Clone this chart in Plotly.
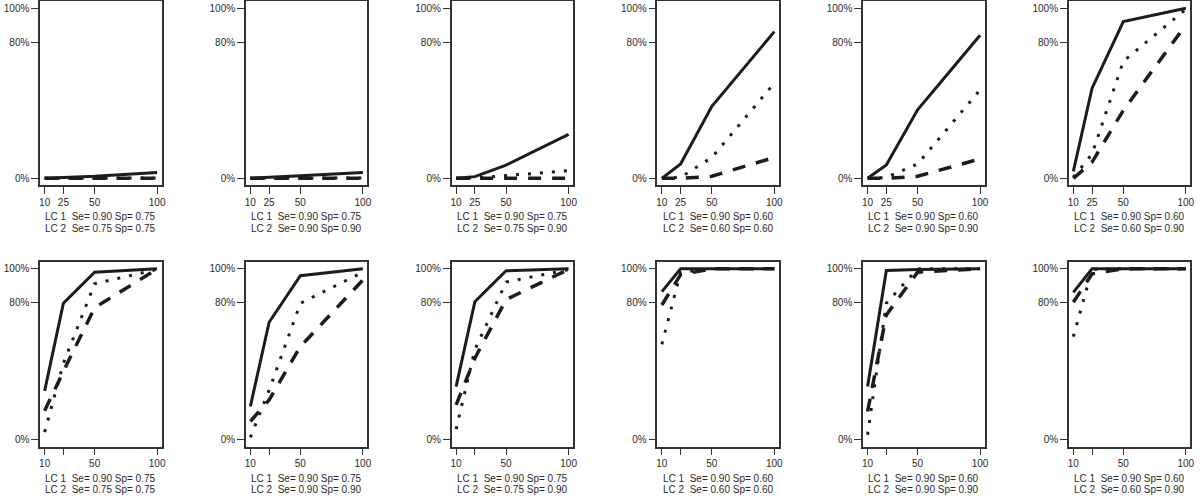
import plotly.graph_objects as go

# ---------------- data ----------------
sample_sizes = [10, 25, 50, 100]

# percentage values for each of the 12 panels (row-major), at sample_sizes
solid_series = [
    [0.1, 0.5, 1.2, 3.5],
    [0.1, 0.5, 1.5, 3.5],
    [0.0, 1.0, 7.8, 25.8],
    [0.0, 8.4, 42.3, 86.3],
    [0.0, 7.8, 40.3, 84.1],
    [4.1, 53.0, 92.2, 100.0],
    [28.6, 79.8, 97.9, 100.0],
    [19.5, 68.7, 95.9, 100.0],
    [31.1, 80.7, 98.8, 100.0],
    [86.6, 100.0, 100.0, 100.0],
    [31.1, 99.0, 99.6, 100.0],
    [86.2, 100.0, 100.0, 100.0],
]
dotted_series = [
    [0.0, 0.0, 0.1, 0.2],
    [0.0, 0.0, 0.1, 0.2],
    [0.0, 0.2, 1.6, 4.5],
    [0.0, 0.6, 12.3, 56.0],
    [0.0, 0.5, 8.4, 52.0],
    [0.6, 14.3, 68.9, 99.4],
    [4.5, 44.7, 91.2, 99.6],
    [1.4, 29.0, 79.8, 98.0],
    [6.2, 52.7, 92.2, 99.5],
    [55.8, 97.8, 100.0, 100.0],
    [2.9, 79.8, 100.0, 100.0],
    [60.3, 99.6, 100.0, 100.0],
]
dashed_series = [
    [0.0, 0.0, 0.0, 0.0],
    [0.0, 0.0, 0.0, 0.0],
    [0.0, 0.0, 0.0, 0.0],
    [0.0, 0.0, 1.2, 12.3],
    [0.0, 0.0, 1.2, 11.4],
    [0.0, 9.5, 40.0, 90.2],
    [16.9, 40.0, 77.2, 99.8],
    [10.7, 23.3, 54.5, 93.4],
    [20.4, 47.7, 82.0, 99.6],
    [78.8, 96.5, 100.0, 100.0],
    [16.5, 73.0, 98.0, 100.0],
    [80.4, 97.0, 100.0, 100.0],
]

lc1_labels = ["Se= 0.90 Sp= 0.75", "Se= 0.90 Sp= 0.75", "Se= 0.90 Sp= 0.75",
              "Se= 0.90 Sp= 0.60", "Se= 0.90 Sp= 0.60", "Se= 0.90 Sp= 0.60"] * 2
lc2_labels = ["Se= 0.75 Sp= 0.75", "Se= 0.90 Sp= 0.90", "Se= 0.75 Sp= 0.90",
              "Se= 0.60 Sp= 0.60", "Se= 0.90 Sp= 0.90", "Se= 0.60 Sp= 0.90"] * 2

y_tick_vals = [0, 80, 100]
y_tick_text = ["0%", "80%", "100%"]
x_tick_text_top = ["10", "25", "50", "100"]
x_tick_text_bottom = ["10", "", "50", "100"]

# ---------------- layout geometry (pixels) ----------------
W, H = 1200, 496
panel_left0 = 39.3
panel_step = 206.6
panel_w = 122.0
rows_px = [(0.5, 184.5), (261.4, 446.5)]          # (top, bottom) of each row's box
label_y_px = [(216, 228), (478, 489)]

FONT = "Liberation Sans, Arial, Helvetica, sans-serif"
TXT = "#2a2a2a"
LINE = "#1c1c1c"

fig = go.Figure()
layout = dict(
    width=W, height=H,
    margin=dict(l=0, r=0, t=0, b=0),
    paper_bgcolor="white", plot_bgcolor="white",
    showlegend=False,
    font=dict(family=FONT, size=10, color=TXT),
)
annotations = []

for k in range(12):
    r, c = divmod(k, 6)
    idx = k + 1
    xa = "x" if idx == 1 else f"x{idx}"
    ya = "y" if idx == 1 else f"y{idx}"
    left = panel_left0 + c * panel_step
    right = left + panel_w
    top, bottom = rows_px[r]

    layout[f"xaxis{idx if idx > 1 else ''}"] = dict(
        domain=[left / W, right / W], anchor=ya,
        range=[6.4, 103.6], tickmode="array", tickvals=sample_sizes,
        ticktext=x_tick_text_top if r == 0 else x_tick_text_bottom,
        showgrid=False, zeroline=False,
        showline=True, mirror=True, linecolor="#333333", linewidth=1.5,
        ticks="outside", ticklen=7, tickwidth=1, tickcolor="#333333",
        tickfont=dict(family=FONT, size=10, color=TXT), fixedrange=True,
    )
    layout[f"yaxis{idx if idx > 1 else ''}"] = dict(
        domain=[1 - bottom / H, 1 - top / H], anchor=xa,
        range=[-4, 104], tickmode="array", tickvals=y_tick_vals, ticktext=y_tick_text,
        showgrid=False, zeroline=False,
        showline=True, mirror=True, linecolor="#333333", linewidth=1.5,
        ticks="outside", ticklen=7, tickwidth=1, tickcolor="#333333",
        tickfont=dict(family=FONT, size=10, color=TXT), fixedrange=True,
    )

    fig.add_trace(go.Scatter(x=sample_sizes, y=dashed_series[k], mode="lines",
                             line=dict(color=LINE, width=3.5, dash="13px,11px"),
                             xaxis=xa, yaxis=ya, hoverinfo="skip"))
    fig.add_trace(go.Scatter(x=sample_sizes, y=dotted_series[k], mode="lines",
                             line=dict(color=LINE, width=3, dash="3px,9px"),
                             xaxis=xa, yaxis=ya, hoverinfo="skip"))
    fig.add_trace(go.Scatter(x=sample_sizes, y=solid_series[k], mode="lines",
                             line=dict(color=LINE, width=3),
                             xaxis=xa, yaxis=ya, hoverinfo="skip"))

    cx = (left + right) / 2 / W
    for j, (prefix, lab) in enumerate((("LC 1", lc1_labels[k]), ("LC 2", lc2_labels[k]))):
        annotations.append(dict(
            x=cx, y=1 - label_y_px[r][j] / H, xref="paper", yref="paper",
            text=f"{prefix}\u00a0 {lab}", showarrow=False,
            xanchor="center", yanchor="middle",
            font=dict(family=FONT, size=10, color=TXT),
        ))

layout["annotations"] = annotations
fig.update_layout(**layout)
fig.write_html(
    "out.html",
    config={"displayModeBar": False},
    post_script="document.body.style.margin='0';document.body.style.overflow='hidden';",
)
